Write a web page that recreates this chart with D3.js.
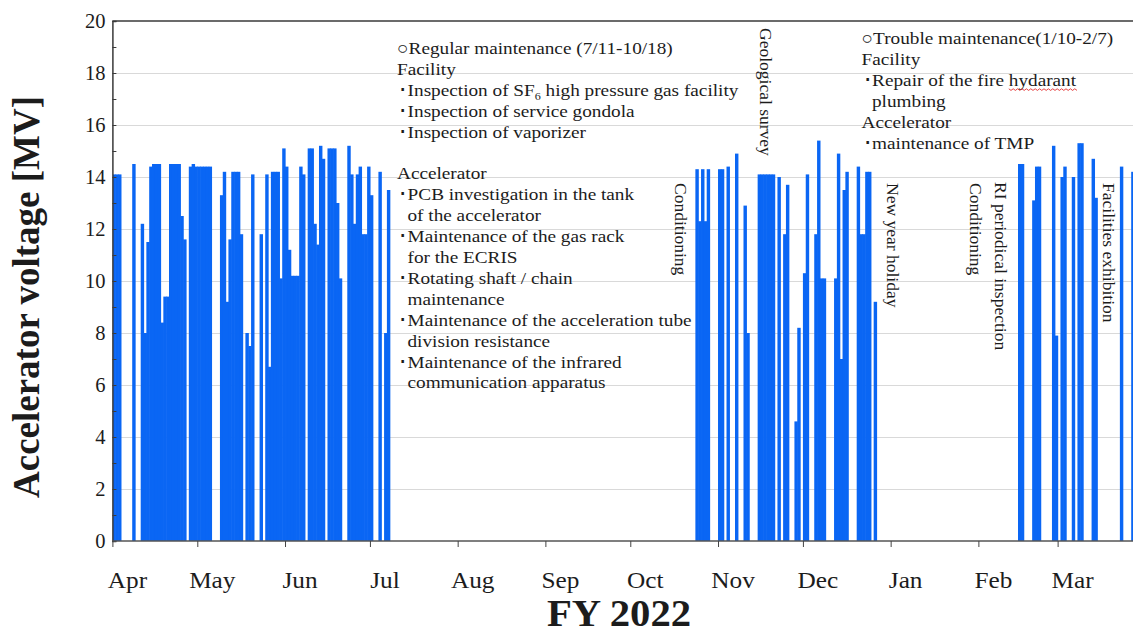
<!DOCTYPE html>
<html>
<head>
<meta charset="utf-8">
<script src="https://cdn.jsdelivr.net/npm/d3@7"></script>
<style>
  body { margin: 0; background: #ffffff; }
  svg { display: block; }
  text { font-family: "Liberation Serif", "Times New Roman", serif; fill: #1c1c1c; }
</style>
</head>
<body>
<svg id="chart" width="1133" height="634"></svg>
<script>
// Daily accelerator voltage [MV] for each running period of FY2022 (0 = no beam that day)
const periodStarts = ["2022-04-01", "2022-10-24", "2023-02-15"];
const springRun = [
  14.1, 14.1, 14.1, 0, 0, 0, 0, 14.5, 0, 0, 12.2, 8.0, 11.5, 14.4, 14.5, 14.5, 14.5, 8.4, 9.4, 9.4,
  14.5, 14.5, 14.5, 14.5, 12.5, 11.6, 0, 14.4, 14.5, 14.4,
  14.4, 14.4, 14.4, 14.4, 14.4, 0, 0, 0, 13.3, 14.2, 9.2, 11.6, 14.2, 14.2, 14.2, 11.8, 0, 8.0, 7.5, 14.1,
  0, 0, 11.8, 0, 14.1, 6.7, 14.2, 14.2, 14.2, 10.1, 15.1,
  14.4, 11.2, 10.2, 10.2, 10.2, 14.4, 14.1, 0, 15.1, 15.1, 12.2, 11.4, 15.2, 14.7, 0, 15.1, 15.1, 15.1, 13.0,
  10.1, 0, 0, 15.2, 14.1, 12.2, 14.1, 14.4, 11.8, 11.8, 14.4,
  13.3, 0, 0, 14.2, 0, 8.0, 13.5
];
const autumnRun = [
  14.3, 12.3, 14.3, 12.3, 14.3, 0, 0, 0, 14.3, 14.3, 0, 14.4, 0, 0, 14.9, 0, 0, 12.9, 8.0, 0,
  0, 0, 14.1, 14.1, 14.1, 14.1, 14.1, 14.1, 0, 14.0, 0, 11.8, 13.7, 0, 0, 4.6, 8.2, 0, 10.3, 14.1,
  0, 0, 11.8, 15.4, 10.1, 10.1, 0, 0, 0, 10.1, 14.9, 7.0, 13.5, 14.2, 0, 0, 0, 14.4, 11.8, 11.8,
  14.2, 14.2, 0, 9.2
];
const winterRun = [
  14.5, 14.5, 0, 0, 0, 13.1, 14.4, 14.4, 0, 0, 0, 0, 15.2, 7.9, 0, 14.0, 14.4, 0, 0, 14.0,
  0, 15.3, 15.3, 0, 0, 0, 14.7, 13.2, 0, 0, 0, 0, 0, 0, 0, 0, 14.4, 0, 0, 0, 14.2
];
const runs = [springRun, autumnRun, winterRun];

const yTickValues = [0, 2, 4, 6, 8, 10, 12, 14, 16, 18, 20];
const monthNames = ["Apr", "May", "Jun", "Jul", "Aug", "Sep", "Oct", "Nov", "Dec", "Jan", "Feb", "Mar"];

const regularNotes = [
  { t: "○Regular maintenance (7/11-10/18)", indent: 0 },
  { t: "Facility", indent: 0 },
  { t: "･Inspection of SF|6| high pressure gas facility", indent: 1 },
  { t: "･Inspection of service gondola", indent: 1 },
  { t: "･Inspection of vaporizer", indent: 1 },
  { t: "", indent: 0 },
  { t: "Accelerator", indent: 0 },
  { t: "･PCB investigation in the tank", indent: 1 },
  { t: "of the accelerator", indent: 2 },
  { t: "･Maintenance of the gas rack", indent: 1 },
  { t: "for the ECRIS", indent: 2 },
  { t: "･Rotating shaft / chain", indent: 1 },
  { t: "maintenance", indent: 2 },
  { t: "･Maintenance of the acceleration tube", indent: 1 },
  { t: "division resistance", indent: 2 },
  { t: "･Maintenance of the infrared", indent: 1 },
  { t: "communication apparatus", indent: 2 }
];
const troubleNotes = [
  { t: "○Trouble maintenance(1/10-2/7)", indent: 0 },
  { t: "Facility", indent: 0 },
  { t: "･Repair of the fire hydarant", indent: 1 },
  { t: "plumbing", indent: 2 },
  { t: "Accelerator", indent: 0 },
  { t: "･maintenance of TMP", indent: 1 }
];
const eventNotes = [
  { text: "Conditioning", date: "2022-10-19", top: 183 },
  { text: "Geological survey", date: "2022-11-18", top: 28 },
  { text: "New year holiday", date: "2023-01-02", top: 183 },
  { text: "Conditioning", date: "2023-01-31", top: 183 },
  { text: "RI periodical inspection", date: "2023-02-09", top: 182 },
  { text: "Facilities exhibition", date: "2023-03-19", top: 183 }
];

// ---- layout ----
const W = 1133, H = 634;
const plotLeft = 112.4, plotTop = 21, plotBottom = 541;
const pxPerDay = 2.83;
const hStretch = 1.10;          // horizontal text stretch of the figure
const barColor = "#0a66f4";

const parseDay = d3.utcParse("%Y-%m-%d");
const fyStart = parseDay("2022-04-01");
const fyEnd = parseDay("2023-04-01");
const x = d3.scaleUtc().domain([fyStart, fyEnd]).range([plotLeft, plotLeft + 365 * pxPerDay]);
const y = d3.scaleLinear().domain([0, 20]).range([plotBottom, plotTop]);

const svg = d3.select("#chart");
svg.append("rect").attr("width", W).attr("height", H).attr("fill", "#fff");

svg.append("defs").append("clipPath").attr("id", "plotClip")
  .append("rect").attr("x", plotLeft + 0.5).attr("y", 0).attr("width", W).attr("height", plotBottom);

// horizontal gridlines
svg.append("g").selectAll("line")
  .data(yTickValues.filter(v => v > 0 && v < 20))
  .join("line")
  .attr("x1", plotLeft).attr("x2", W)
  .attr("y1", d => Math.round(y(d)) + 0.5).attr("y2", d => Math.round(y(d)) + 0.5)
  .attr("stroke", "#d9d9d9").attr("stroke-width", 1);

// daily bars (slight overlap so neighbouring days join without seams)
const days = [];
periodStarts.forEach((s, k) => {
  const start = parseDay(s);
  runs[k].forEach((v, i) => {
    if (v > 0) days.push({ date: d3.utcDay.offset(start, i), v });
  });
});
svg.append("g").attr("clip-path", "url(#plotClip)")
  .selectAll("rect").data(days).join("rect")
  .attr("x", d => x(d.date))
  .attr("width", d => x(d3.utcDay.offset(d.date, 1)) - x(d.date) + 0.6)
  .attr("y", d => y(d.v))
  .attr("height", d => y(0) - y(d.v))
  .attr("fill", barColor);

// plot frame: top edge
svg.append("line").attr("x1", plotLeft).attr("x2", W).attr("y1", plotTop).attr("y2", plotTop)
  .attr("stroke", "#3a3a3a").attr("stroke-width", 1.5);

// y axis: inward minor ticks every 1 MV
const yAxisMinor = d3.axisRight(y).tickValues(d3.range(0, 21)).tickSize(4).tickFormat("");
const gy = svg.append("g").attr("transform", `translate(${plotLeft},0)`).call(yAxisMinor);
gy.select(".domain").attr("stroke", "#3a3a3a").attr("stroke-width", 1.5);
gy.selectAll(".tick line").attr("stroke", "#3a3a3a");

// y tick labels
const gyl = svg.append("g").attr("transform", `translate(${plotLeft},0)`)
  .call(d3.axisLeft(y).tickValues(yTickValues).tickSize(0).tickPadding(7));
gyl.select(".domain").remove();
gyl.selectAll("text").attr("font-size", 20.5).attr("font-family", "Liberation Serif")
  .attr("fill", "#1c1c1c");

// x axis with month ticks
const gx = svg.append("g").attr("transform", `translate(0,${plotBottom})`)
  .call(d3.axisBottom(x).ticks(d3.utcMonth.every(1)).tickSize(6).tickFormat(""));
gx.select(".domain").attr("stroke", "#555").attr("stroke-width", 1.5).attr("d", `M${plotLeft},0H${W}`);
gx.selectAll(".tick line").attr("stroke", "#444");

// month labels
const months = d3.utcMonth.range(fyStart, fyEnd);
svg.append("g").selectAll("text").data(months).join("text")
  .attr("transform", d => `translate(${x(d) + 15},588) scale(${hStretch},1)`)
  .attr("text-anchor", "middle")
  .attr("font-size", 23)
  .text((d, i) => monthNames[i]);

// axis titles
svg.append("text")
  .attr("transform", `translate(39,297) rotate(-90)`)
  .attr("text-anchor", "middle").attr("font-weight", "bold").attr("font-size", 37)
  .text("Accelerator voltage [MV]");
svg.append("text")
  .attr("transform", `translate(619,626) scale(${hStretch},1)`)
  .attr("text-anchor", "middle").attr("font-weight", "bold").attr("font-size", 37)
  .text("FY 2022");

// maintenance notes
const indentPx = [0, 1.2, 10.5];
function drawNotes(lines, left, firstY, step) {
  const g = svg.append("g");
  lines.forEach((ln, i) => {
    if (!ln.t) return;
    const tx = left + indentPx[ln.indent];
    const ty = firstY + i * step;
    const t = g.append("text")
      .attr("transform", `translate(${tx},${ty}) scale(${hStretch},1)`)
      .attr("font-size", 17.5);
    const parts = ln.t.split("|");
    if (parts.length === 3) {
      t.append("tspan").text(parts[0]);
      t.append("tspan").attr("font-size", 11).attr("dy", 4).text(parts[1]);
      t.append("tspan").attr("dy", -4).text(parts[2]);
    } else {
      t.text(ln.t);
    }
    const mark = ln.t.indexOf("hydarant");
    if (mark >= 0) {
      // spell-check squiggle under the misspelt word
      const node = t.node();
      const sx = node.getSubStringLength(0, mark);
      const sw = node.getSubStringLength(mark, 8);
      let d = `M${sx},3`;
      for (let k = 0, px = sx; px < sx + sw; k++) {
        px += 2;
        d += `L${px},${k % 2 ? 3 : 4.6}`;
      }
      g.append("path")
        .attr("transform", `translate(${tx},${ty}) scale(${hStretch},1)`)
        .attr("d", d).attr("fill", "none").attr("stroke", "#e02020").attr("stroke-width", 0.8);
    }
  });
}
drawNotes(regularNotes, 397, 54, 20.9);
drawNotes(troubleNotes, 861.5, 44, 20.9);

// vertical event labels
svg.append("g").selectAll("text").data(eventNotes).join("text")
  .attr("transform", d => `translate(${x(parseDay(d.date))},${d.top}) rotate(90)`)
  .attr("dominant-baseline", "central")
  .attr("font-size", 17.5)
  .text(d => d.text);
</script>
</body>
</html>
